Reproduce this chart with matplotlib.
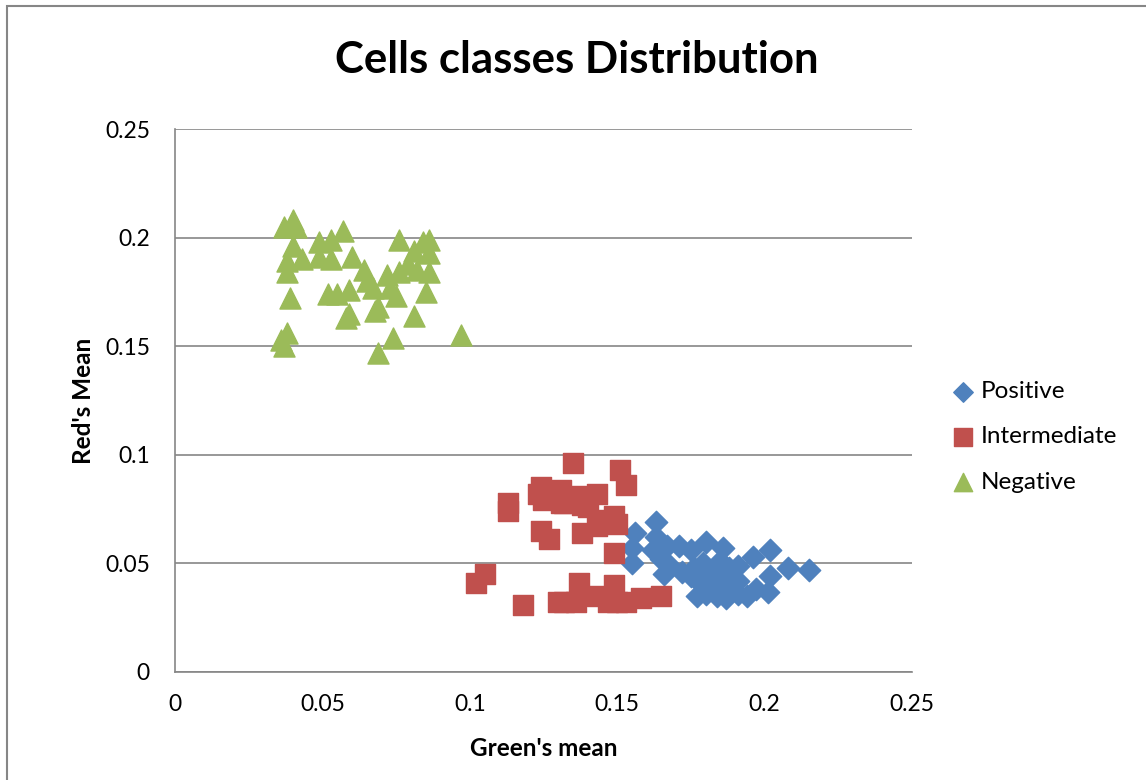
import matplotlib
matplotlib.use("Agg")
import matplotlib.pyplot as plt
from matplotlib.patches import Rectangle

plt.rcParams["font.family"] = ["Lato", "DejaVu Sans"]

# ---- Data ----
pos_green = [0.156, 0.163, 0.155, 0.155, 0.163, 0.162, 0.167, 0.171, 0.165, 0.168,
             0.166, 0.175, 0.180, 0.186, 0.176, 0.175, 0.179, 0.181, 0.185, 0.188,
             0.191, 0.196, 0.202, 0.208, 0.215, 0.202, 0.201, 0.177, 0.180, 0.184,
             0.187, 0.191, 0.194, 0.197, 0.186, 0.178, 0.191, 0.181, 0.186, 0.172]
pos_red = [0.064, 0.069, 0.057, 0.050, 0.062, 0.056, 0.058, 0.058, 0.052, 0.049,
           0.045, 0.056, 0.060, 0.057, 0.048, 0.044, 0.050, 0.046, 0.051, 0.048,
           0.049, 0.053, 0.056, 0.048, 0.047, 0.044, 0.037, 0.035, 0.036, 0.035,
           0.034, 0.036, 0.035, 0.038, 0.039, 0.041, 0.042, 0.041, 0.043, 0.046]

int_green = [0.135, 0.151, 0.153, 0.113, 0.113, 0.124, 0.123, 0.125, 0.131, 0.132,
             0.131, 0.136, 0.138, 0.143, 0.124, 0.127, 0.138, 0.143, 0.147, 0.149,
             0.150, 0.149, 0.102, 0.105, 0.118, 0.137, 0.149, 0.130, 0.132, 0.136,
             0.143, 0.147, 0.150, 0.153, 0.158, 0.165, 0.140, 0.145]
int_red = [0.096, 0.093, 0.086, 0.078, 0.074, 0.085, 0.082, 0.079, 0.084, 0.078,
           0.078, 0.081, 0.077, 0.082, 0.065, 0.061, 0.064, 0.067, 0.069, 0.072,
           0.068, 0.055, 0.041, 0.045, 0.031, 0.041, 0.040, 0.032, 0.032, 0.032,
           0.035, 0.032, 0.032, 0.032, 0.034, 0.035, 0.076, 0.070]

neg_green = [0.040, 0.037, 0.041, 0.040, 0.038, 0.038, 0.043, 0.049, 0.053, 0.057,
             0.049, 0.053, 0.060, 0.039, 0.052, 0.055, 0.059, 0.064, 0.065, 0.067,
             0.058, 0.059, 0.068, 0.069, 0.072, 0.073, 0.075, 0.076, 0.076, 0.079,
             0.081, 0.082, 0.084, 0.086, 0.086, 0.086, 0.085, 0.081, 0.038, 0.036,
             0.037, 0.074, 0.069, 0.097]
neg_red = [0.208, 0.205, 0.205, 0.196, 0.189, 0.184, 0.190, 0.198, 0.199, 0.203,
           0.191, 0.190, 0.191, 0.172, 0.174, 0.174, 0.176, 0.185, 0.180, 0.177,
           0.163, 0.165, 0.166, 0.168, 0.183, 0.177, 0.173, 0.199, 0.184, 0.188,
           0.194, 0.185, 0.198, 0.199, 0.193, 0.184, 0.175, 0.164, 0.156, 0.153,
           0.150, 0.154, 0.147, 0.155]

x_ticks = [0, 0.05, 0.1, 0.15, 0.2, 0.25]
tick_labels = ["0", "0.05", "0.1", "0.15", "0.2", "0.25"]

fig = plt.figure(figsize=(11.46, 7.80), dpi=100)
ax = fig.add_axes([0.1527, 0.1385, 0.6431, 0.6961])

ax.scatter(pos_green, pos_red, marker="D", s=130, color="#4F81BD", label="Positive", zorder=3)
ax.scatter(int_green, int_red, marker="s", s=200, color="#C0504D", label="Intermediate", zorder=3)
ax.scatter(neg_green, neg_red, marker="^", s=230, color="#9BBB59", label="Negative", zorder=3)

ax.set_xlim(0, 0.25)
ax.set_ylim(0, 0.25)
ax.set_xticks(x_ticks)
ax.set_xticklabels(tick_labels)
ax.set_yticks(x_ticks)
ax.set_yticklabels(tick_labels)
ax.tick_params(length=0, labelsize=16.5)
ax.tick_params(axis="x", pad=16)
ax.tick_params(axis="y", pad=18)

ax.grid(axis="y", color="#868686", linewidth=1.2)
ax.set_axisbelow(True)
for side in ["top", "right"]:
    ax.spines[side].set_visible(False)
for side in ["left", "bottom"]:
    ax.spines[side].set_color("#868686")
    ax.spines[side].set_linewidth(1.2)

ax.set_xlabel("Green's mean", fontsize=17.5, fontweight="bold", labelpad=16)
ax.set_ylabel("Red's Mean", fontsize=17.5, fontweight="bold", labelpad=7)
fig.text(0.503, 0.923, "Cells classes Distribution", ha="center", va="center",
         fontsize=31.5, fontweight="bold")

ax.legend(loc="center left", bbox_to_anchor=(0.83, 0.44), bbox_transform=fig.transFigure,
          frameon=False, fontsize=17.5, handlelength=1.0, handletextpad=0.2,
          labelspacing=1.0, markerscale=0.87, borderaxespad=0, borderpad=0)

# chart area border
fig.patches.append(Rectangle((7 / 1146, -0.01), 1.0, 1 - 6 / 780 + 0.01,
                             transform=fig.transFigure, fill=False,
                             edgecolor="#868686", linewidth=1.5))

fig.savefig("out.png", dpi=100)
